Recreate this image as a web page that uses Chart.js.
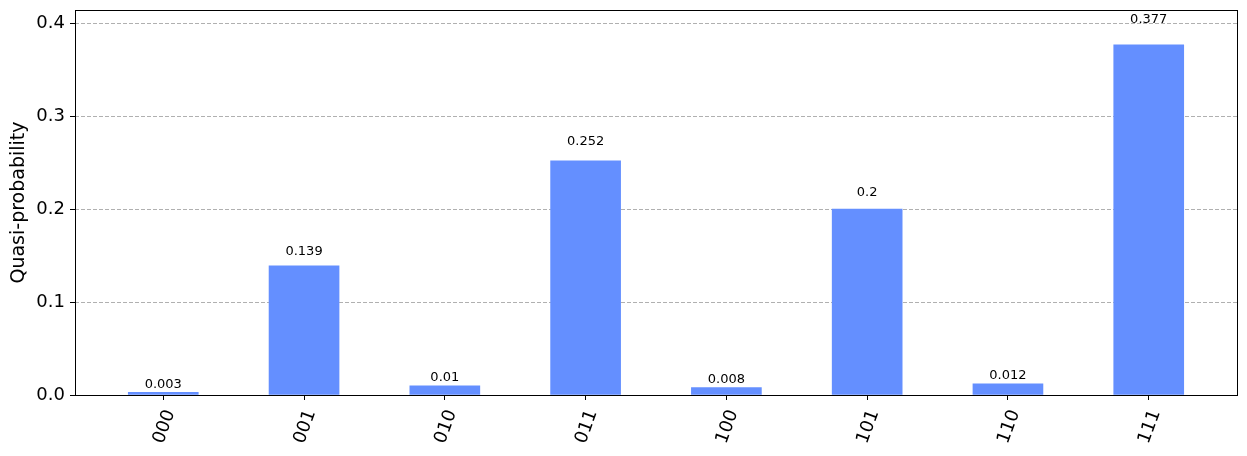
<!DOCTYPE html>
<html>
<head>
<meta charset="utf-8">
<script src="https://cdn.jsdelivr.net/npm/chart.js@4"></script>
<style>
  body { margin: 0; background: #fff; }
</style>
</head>
<body>
<canvas id="hist" width="1247" height="456"></canvas>
<script>
const labels = ['000', '001', '010', '011', '100', '101', '110', '111'];
const values = [0.003, 0.139, 0.01, 0.252, 0.008, 0.2, 0.012, 0.377];
const yTicks = [0, 0.1, 0.2, 0.3, 0.4];

// value labels above bars (at 1.05 * height) and the full frame
const extras = {
  id: 'extras',
  afterDatasetsDraw(chart) {
    const { ctx, chartArea: a, scales } = chart;
    ctx.save();
    ctx.fillStyle = '#000';
    ctx.font = '13px "DejaVu Sans"';
    ctx.textAlign = 'center';
    ctx.textBaseline = 'bottom';
    values.forEach((v, i) => {
      ctx.fillText(String(v), scales.x.getPixelForValue(i), scales.y.getPixelForValue(v * 1.05) - 1);
    });
    ctx.strokeStyle = '#000';
    ctx.lineWidth = 1;
    ctx.strokeRect(Math.round(a.left) + 0.5, Math.round(a.top) + 0.5,
      Math.round(a.right - a.left), Math.round(a.bottom - a.top));
    ctx.restore();
  }
};

new Chart(document.getElementById('hist'), {
  type: 'bar',
  data: {
    datasets: [{
      data: values.map((v, i) => ({ x: i, y: v })),
      backgroundColor: '#648FFF',
      borderWidth: 0,
      barThickness: 70
    }]
  },
  options: {
    responsive: false,
    animation: false,
    layout: { padding: { top: 10, right: 10, left: 0, bottom: 0 } },
    plugins: { legend: { display: false }, tooltip: { enabled: false } },
    scales: {
      x: {
        type: 'linear',
        offset: false,
        min: -0.627,
        max: 7.627,
        afterBuildTicks: s => { s.ticks = labels.map((_, i) => ({ value: i })); },
        afterFit: s => { s.height = 61; s.paddingLeft = 0; s.paddingRight = 0; },
        border: { display: false },
        grid: { offset: false, drawOnChartArea: false, drawTicks: true, tickLength: 5, tickColor: '#000' },
        ticks: {
          callback: v => labels[v],
          minRotation: 70,
          maxRotation: 70,
          color: '#000',
          padding: 7,
          labelOffset: 7,
          font: { family: 'DejaVu Sans', size: 18 }
        }
      },
      y: {
        min: 0,
        max: 0.4144,
        afterBuildTicks: s => { s.ticks = yTicks.map(v => ({ value: v })); },
        afterFit: s => { s.width = 75; s.paddingTop = 0; s.paddingBottom = 0; },
        border: { display: false, dash: [4, 2] },
        grid: { color: '#b0b0b0', lineWidth: 1, tickLength: 5, tickColor: '#000', tickBorderDash: [] },
        ticks: {
          callback: v => v.toFixed(1),
          color: '#000',
          padding: 5,
          font: { family: 'DejaVu Sans', size: 18 }
        },
        title: {
          display: true,
          text: 'Quasi-probability',
          color: '#000',
          padding: { top: 8, bottom: 0 },
          font: { family: 'DejaVu Sans', size: 19 }
        }
      }
    }
  },
  plugins: [extras]
});
</script>
</body>
</html>
